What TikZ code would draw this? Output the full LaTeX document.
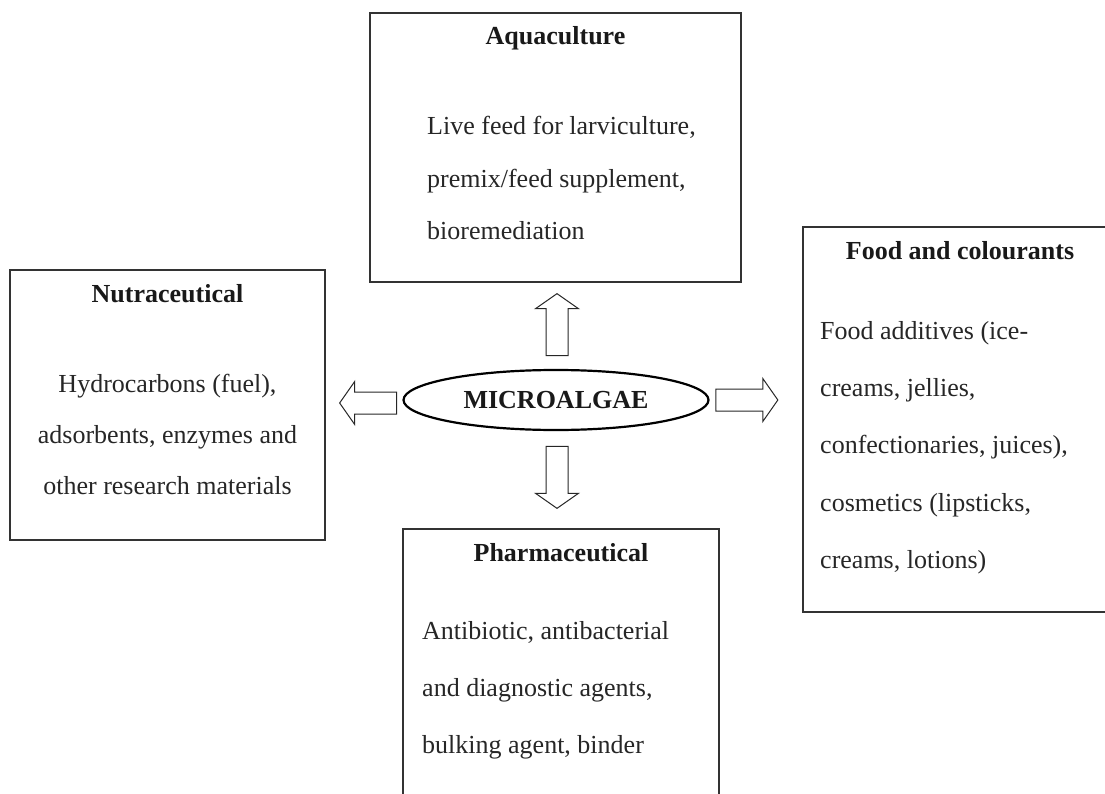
\documentclass[tikz,border=0pt]{standalone}
\usepackage{fontspec}
\setmainfont{Liberation Serif}
\usetikzlibrary{positioning,shapes.geometric,shapes.arrows}

\begin{document}
\begin{tikzpicture}[x=1pt,y=-1pt,
  box/.style={draw=black!80, line width=1.3pt, rectangle, inner sep=0pt},
  title/.style={font=\fontsize{26}{31}\selectfont\bfseries, text=black!90, anchor=base, inner sep=0pt},
  body/.style={font=\fontsize{26}{#1}\selectfont, text=black!85, inner sep=0pt},
  hub/.style={draw, ellipse, line width=2.2pt, minimum width=305pt, minimum height=60pt,
    inner sep=0pt, font=\fontsize{26}{31}\selectfont\bfseries, text=black!90},
  fatarrow/.style={draw=black!85, line width=1pt, single arrow, single arrow head extend=10.5pt,
    single arrow tip angle=110, inner xsep=0pt, inner ysep=10.5pt, minimum height=62pt}
]
\path[use as bounding box, clip] (0,0) rectangle (1105,794);

% centre
\node[hub] (algae) at (556,400) {MICROALGAE};

% boxes
\node[box, minimum width=371pt, minimum height=269pt] (aqua) at (555.5,147.5) {};
\node[box, minimum width=315pt, minimum height=270pt] (nutra) at (167.5,405) {};
\node[box, minimum width=314pt, minimum height=385pt] (food) at (960,419.5) {};
\node[box, minimum width=316pt, minimum height=300pt] (pharma) at (561,679) {};

% titles
\node[title] (aquatitle) at (555.5,45) {Aquaculture};
\node[title] (nutratitle) at (167.5,302) {Nutraceutical};
\node[title] (foodtitle) at (960,259) {Food and colourants};
\node[title] (pharmatitle) at (561,561) {Pharmaceutical};

% texts
\node[body=52.5, anchor=north west, align=left] (aquatext) at (427,116)
  {Live feed for larviculture,\\premix/feed supplement,\\bioremediation};
\node[body=51, anchor=north, align=center] (nutratext) at (167.5,374)
  {Hydrocarbons (fuel),\\adsorbents, enzymes and\\other research materials};
\node[body=57.3, anchor=north west, align=left] (foodtext) at (820,321)
  {Food additives (ice-\\creams, jellies,\\confectionaries, juices),\\cosmetics (lipsticks,\\creams, lotions)};
\node[body=57, anchor=north west, align=left] (pharmatext) at (422,621)
  {Antibiotic, antibacterial\\and diagnostic agents,\\bulking agent, binder};

% arrows
\node[fatarrow, rotate=90] (toaqua) at (557,328.5) {};
\node[fatarrow, rotate=180, minimum height=57pt] (tonutra) at (372,403) {};
\node[fatarrow] (tofood) at (743,400) {};
\node[fatarrow, rotate=270] (topharma) at (557,473.5) {};
\end{tikzpicture}
\end{document}
